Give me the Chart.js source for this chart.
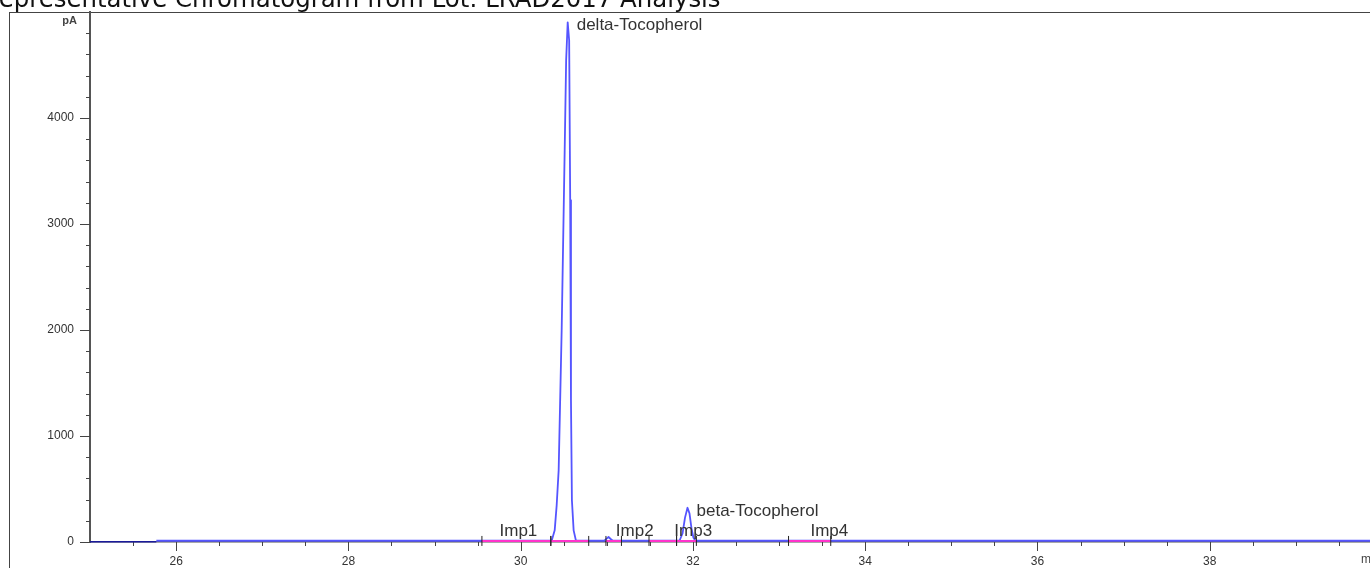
<!DOCTYPE html>
<html>
<head>
<meta charset="utf-8">
<script src="https://cdn.jsdelivr.net/npm/chart.js@4"></script>
<style>
  html, body { margin: 0; padding: 0; background: #fff; overflow: hidden; }
  #wrap { position: relative; width: 1400px; height: 568px; }
  #chromatogram { position: absolute; left: 0; top: 0; }
  #title { position: absolute; left: -17px; top: -13px; font: 24.4px "DejaVu Sans"; line-height: 24px; color: #111; white-space: nowrap; }
</style>
</head>
<body>
<div id="wrap">
  <canvas id="chromatogram" width="1400" height="568"></canvas>
  <div id="title">Representative Chromatogram from Lot: LRAD2017 Analysis</div>
</div>
<script>
// detector trace, time in min, signal in pA
const startTime = [25.0, 25.77];
const startSignal = [2, 2];

const signalTime = [25.77, 29.5, 30.36, 30.395, 30.418, 30.441, 30.476, 30.511, 30.528, 30.546,
  30.563, 30.575, 30.584, 30.595, 30.615, 30.642, 30.97, 30.995, 31.02, 31.045, 31.07,
  31.844, 31.879, 31.908, 31.937, 31.96, 31.983, 32.006, 32.03, 40.0];
const signalValue = [12, 12, 12, 110, 346, 676, 1998, 3695, 4544, 4903,
  4733, 3224, 1337, 393, 110, 12, 12, 30, 47, 28, 12,
  12, 80, 230, 323, 270, 130, 40, 12, 12];

// integrated peaks
const peakNames = ['Imp1', 'delta-Tocopherol', 'Imp2', 'Imp3', 'beta-Tocopherol', 'Imp4'];
const peakTimes = [29.65, 30.546, 31.0, 31.68, 31.937, 33.26];
const peakHeights = [5, 4903, 47, 10, 323, 5];
const peakStart = [29.55, 30.35, 30.99, 31.49, 31.81, 33.11];
const peakEnd = [30.35, 30.79, 31.17, 31.81, 32.04, 33.6];

const xTickLabels = [26, 28, 30, 32, 34, 36, 38];
const yTickLabels = [0, 1000, 2000, 3000, 4000];

const pinkBaseline = [];
const eventMarks = [];
peakStart.forEach((s, i) => {
  pinkBaseline.push({x: s, y: 10}, {x: peakEnd[i], y: 10}, {x: peakEnd[i], y: null});
  eventMarks.push({x: s, y: 10}, {x: peakEnd[i], y: 10});
});

const axisMarks = {
  id: 'axisMarks',
  beforeDraw(chart) {
    const {ctx} = chart;
    ctx.save();
    ctx.strokeStyle = '#444';
    ctx.lineWidth = 1;
    ctx.strokeRect(9.5, 12.5, chart.width + 20, chart.height + 20);
    ctx.restore();
  },
  beforeDatasetsDraw(chart) {
    const {ctx, chartArea, scales: {x, y}} = chart;
    ctx.save();
    ctx.strokeStyle = '#444';
    ctx.lineWidth = 1;
    ctx.beginPath();
    x.ticks.forEach(tk => {
      if (tk.value <= x.min || tk.value >= x.max) return;
      const px = Math.round(x.getPixelForValue(tk.value)) + 0.5;
      const len = xTickLabels.includes(tk.value) ? 9 : 4;
      ctx.moveTo(px, chartArea.bottom);
      ctx.lineTo(px, chartArea.bottom + len);
    });
    y.ticks.forEach(tk => {
      if (tk.value >= y.max) return;
      const py = Math.round(y.getPixelForValue(tk.value)) + 0.5;
      const len = yTickLabels.includes(tk.value) ? 10 : 4;
      ctx.moveTo(chartArea.left - len, py);
      ctx.lineTo(chartArea.left, py);
    });
    ctx.stroke();
    ctx.fillStyle = '#444';
    ctx.font = 'bold 11px "Liberation Sans"';
    ctx.textAlign = 'right';
    ctx.textBaseline = 'middle';
    ctx.fillText('pA', chartArea.left - 13, chartArea.top + 9);
    ctx.textAlign = 'left';
    ctx.font = '12px "Liberation Sans"';
    ctx.fillText('min', chartArea.right - 21, chartArea.bottom + 18);
    ctx.restore();
  },
  afterDatasetsDraw(chart) {
    const {ctx, chartArea, scales: {x, y}} = chart;
    ctx.save();
    ctx.fillStyle = '#333';
    ctx.font = '17px "Liberation Sans"';
    ctx.textAlign = 'left';
    ctx.textBaseline = 'alphabetic';
    peakNames.forEach((name, i) => {
      const px = x.getPixelForValue(peakTimes[i]) + 9;
      const py = Math.min(y.getPixelForValue(peakHeights[i]), chartArea.bottom - 14) + 8;
      ctx.fillText(name, px, py);
    });
    ctx.restore();
  }
};

new Chart(document.getElementById('chromatogram'), {
  type: 'scatter',
  data: {
    datasets: [
      {
        data: eventMarks,
        pointStyle: 'line',
        rotation: 90,
        radius: 5,
        borderColor: '#222',
        borderWidth: 1,
        showLine: false,
        clip: false
      },
      {
        data: pinkBaseline,
        showLine: true,
        spanGaps: false,
        borderColor: '#ff33cc',
        borderWidth: 2,
        pointRadius: 0,
        clip: false
      },
      {
        data: signalTime.map((t, i) => ({x: t, y: signalValue[i]})),
        showLine: true,
        borderColor: '#5555ff',
        borderWidth: 1.8,
        borderJoinStyle: 'round',
        pointRadius: 0,
        clip: false
      },
      {
        data: startTime.map((t, i) => ({x: t, y: startSignal[i]})),
        showLine: true,
        borderColor: '#1a1a9a',
        borderWidth: 1.5,
        pointRadius: 0,
        clip: false
      }
    ]
  },
  options: {
    responsive: false,
    animation: false,
    events: [],
    layout: { padding: { left: 0, top: 12, right: 18, bottom: 0 } },
    plugins: { legend: { display: false }, tooltip: { enabled: false } },
    scales: {
      x: {
        type: 'linear',
        min: 25,
        max: 40,
        afterFit: s => { s.height = 26; s.paddingLeft = 0; s.paddingRight = 0; },
        grid: { display: false, drawTicks: false },
        border: { display: true, color: '#555', width: 1.5 },
        ticks: {
          stepSize: 0.5,
          autoSkip: false,
          maxRotation: 0,
          padding: 12,
          color: '#333',
          font: { family: 'Liberation Sans', size: 12 },
          callback: v => xTickLabels.includes(v) ? String(v) : ''
        }
      },
      y: {
        min: 0,
        max: 5000,
        afterFit: s => { s.width = 90; s.paddingTop = 0; s.paddingBottom = 0; },
        grid: { display: false, drawTicks: false },
        border: { display: true, color: '#555', width: 2 },
        ticks: {
          stepSize: 200,
          autoSkip: false,
          padding: 16,
          color: '#333',
          font: { family: 'Liberation Sans', size: 12 },
          callback: v => yTickLabels.includes(v) ? String(v) : ''
        }
      }
    }
  },
  plugins: [axisMarks]
});
</script>
</body>
</html>
